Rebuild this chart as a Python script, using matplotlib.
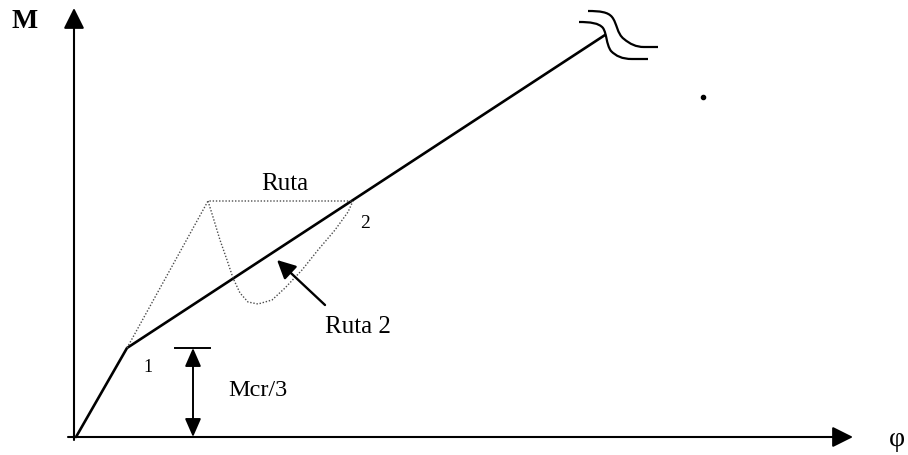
import matplotlib
matplotlib.use("Agg")
import matplotlib.pyplot as plt
from matplotlib.path import Path
from matplotlib.patches import PathPatch

# =====================================================
# DATA (curvature phi vs moment M, drawing units)
# =====================================================
phi_main = [0, 51, 529]
M_main = [0, 89, 402]

# Ruta (dotted, via the peak)
ruta_phi = [51, 132, 277]
ruta_M = [89, 236, 236]

# Ruta 2 (dotted, dips under the bilinear curve)
ruta2_phi = [132, 137, 144, 151, 157, 164, 172, 182, 196, 209, 226, 242, 259, 272, 277]
ruta2_M = [236, 220, 197, 177, 159, 144, 135, 133, 137, 149, 167, 187, 207, 225, 236]

# arrow pointing at the curve (tail -> head)
arrow_tail = (249, 132)
arrow_head = (201, 177)

# Mcr/3 dimension
mcr_phi = 117
mcr_tick = [99, 134]
mcr_M = 89

# break symbol (two S-shaped strokes)
brk_upper = [(512, 426), (524, 426), (532, 425), (536, 420), (541, 414), (541, 403),
             (548, 398), (554, 393), (560, 390), (568, 390), (582, 390)]
brk_lower = [(503, 415), (514, 415), (523, 414), (527, 409), (531, 403), (530, 393),
             (535, 386), (540, 381), (546, 378), (556, 378), (572, 378)]
brk_codes = [Path.MOVETO] + [Path.CURVE4] * 9 + [Path.LINETO]

plt.rcParams['font.family'] = ['Liberation Serif', 'DejaVu Serif']

fig = plt.figure(figsize=(9.08, 4.55), dpi=100)
ax = fig.add_axes([0, 0, 1, 1])
ax.set_xlim(-76, 832)
ax.set_ylim(-18, 437)
ax.axis("off")

# ----- axes with arrows -----
arr = dict(arrowstyle="-|>,head_length=0.9,head_width=0.45", color="black",
           lw=1.5, mutation_scale=14, shrinkA=0, shrinkB=0)
ax.annotate("", xy=(-2, 429), xytext=(-2, -3), arrowprops=arr)
ax.annotate("", xy=(777, 0), xytext=(-8, 0), arrowprops=arr)

# ----- main bilinear curve -----
ax.plot(phi_main, M_main, color="black", lw=1.9, solid_capstyle="round")

# ----- dotted paths -----
dot = dict(color="#4d4d4d", lw=1.0, ls=(0, (1, 1.3)))
ax.plot(ruta_phi, ruta_M, **dot)
ax.plot(ruta2_phi, ruta2_M, **dot)

# ----- arrow to Ruta 2 -----
ax.annotate("", xy=arrow_head, xytext=arrow_tail,
            arrowprops=dict(arrowstyle="-|>,head_length=0.8,head_width=0.4",
                            color="black", lw=1.7, mutation_scale=14,
                            shrinkA=0, shrinkB=0))

# ----- Mcr/3 dimension -----
ax.plot(mcr_tick, [mcr_M, mcr_M], color="black", lw=1.4)
ax.annotate("", xy=(mcr_phi, 0), xytext=(mcr_phi, mcr_M),
            arrowprops=dict(arrowstyle="<|-|>,head_length=0.8,head_width=0.35",
                            color="black", lw=1.4, mutation_scale=14,
                            shrinkA=0, shrinkB=0))

# ----- break symbol -----
for pts in (brk_upper, brk_lower):
    ax.add_patch(PathPatch(Path(pts, brk_codes), fill=False, lw=1.6,
                           edgecolor="black"))

# stray dot from the scan
ax.plot([627], [340], "o", color="black", ms=3)

# ----- labels -----
ax.text(-51, 416, "M", fontsize=20, fontweight="bold", ha="center", va="center")
ax.text(821, -2, "φ", fontsize=20, ha="center", va="center")
ax.text(209, 253, "Ruta", fontsize=18, ha="center", va="center")
ax.text(289, 213, "2", fontsize=14, ha="center", va="center")
ax.text(282, 110, "Ruta 2", fontsize=18, ha="center", va="center")
ax.text(72, 70, "1", fontsize=13, ha="center", va="center")
ax.text(182, 47, "Mcr/3", fontsize=17.5, ha="center", va="center")

fig.savefig("out.png", dpi=100)
